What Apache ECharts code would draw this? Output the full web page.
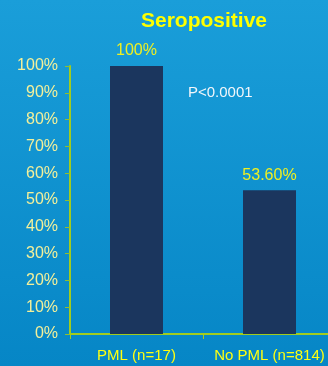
<!DOCTYPE html>
<html><head><meta charset="utf-8">
<script src="https://cdn.jsdelivr.net/npm/echarts@6/dist/echarts.min.js"></script>
<style>html,body{margin:0;padding:0;}#c{width:328px;height:366px;background:linear-gradient(#1a9ed9,#0686c6);}</style>
</head><body><div id="c"></div>
<script>
const categories = ['PML (n=17)', 'No PML (n=814)'];
const values = [100, 53.6];
const valueLabels = ['100%', '53.60%'];
const yTicks = [0,10,20,30,40,50,60,70,80,90,100];
const titleText = 'Seropositive';
const pText = 'P<0.0001';

const chart = echarts.init(document.getElementById('c'), null, {renderer:'canvas'});
const font = 'Liberation Sans, Arial, sans-serif';
chart.setOption({
  backgroundColor: 'transparent',
  title: {text: titleText, left: 199, top: 6, textAlign: 'center',
    textStyle: {color: '#ffff00', fontSize: 21, fontWeight: 'bold', fontFamily: font}},
  grid: {left: 70, width: 266, top: 66, bottom: 32, containLabel: false, outerBoundsMode: 'none'},
  xAxis: {type: 'category', data: categories,
    axisLine: {lineStyle: {color: '#a2cc1e', width: 2}},
    axisTick: {show: true, length: 5, lineStyle: {color: '#a2cc1e', width: 1}},
    axisLabel: {color: '#ffff10', fontSize: 15, fontFamily: font, margin: 14, interval: 0, hideOverlap: false}},
  yAxis: {type: 'value', min: 0, max: 100, interval: 10,
    axisLine: {show: true, lineStyle: {color: '#a2cc1e', width: 2}},
    axisTick: {show: true, length: 5, lineStyle: {color: '#8fbf30', width: 1}},
    splitLine: {show: false},
    axisLabel: {color: '#f4f09a', fontSize: 16, fontFamily: font, margin: 12,
      formatter: v => yTicks.includes(v) ? v + '%' : ''}},
  series: [{type: 'bar', data: values, barWidth: 53,
    itemStyle: {color: '#1b365e'},
    label: {show: true, position: 'top', distance: 7, color: '#f0f020', fontSize: 16, fontFamily: font,
      formatter: p => valueLabels[p.dataIndex]}}],
  graphic: [{type: 'text', left: 188, top: 85,
    style: {text: pText, fill: '#f2f6fa', fontSize: 15, fontFamily: font}}]
});
</script></body></html>
